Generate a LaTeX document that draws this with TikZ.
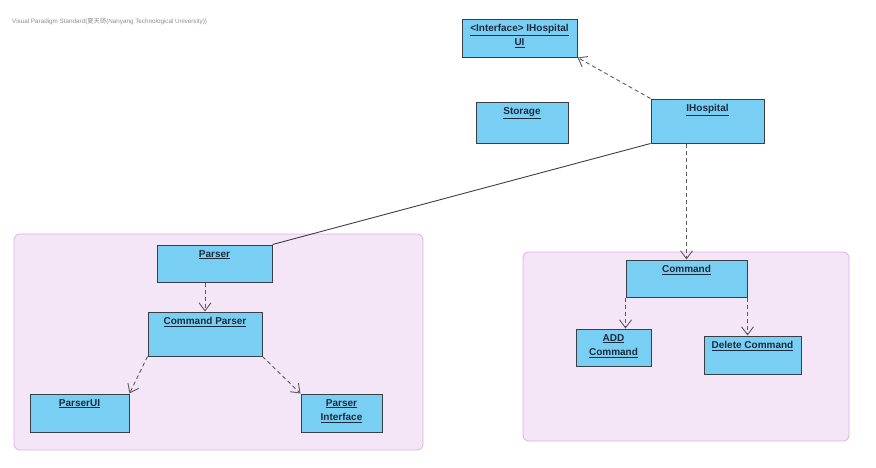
\documentclass[tikz,border=0pt]{standalone}
\usepackage{fontspec}
\setmainfont{Liberation Sans}
\newfontfamily\cjkfont{Noto Sans CJK SC}
\usetikzlibrary{arrows.meta,calc,positioning}
\definecolor{boxfill}{HTML}{79CFF3}
\definecolor{boxline}{HTML}{3A3F44}
\definecolor{boxtext}{HTML}{1C2B3C}
\definecolor{pkgfill}{HTML}{F4E6F6}
\definecolor{pkgline}{HTML}{DDB0E6}
\newcommand{\uln}[1]{\underline{#1}}
\tikzset{
  cls/.style={rectangle,draw=boxline,fill=boxfill,line width=1pt,inner sep=0pt},
  lbl/.style={anchor=north,inner sep=0pt,yshift=-5.5pt,text=boxtext,align=center,
    font=\fontsize{10}{14.5}\selectfont\bfseries},
  pkg/.style={rectangle,rounded corners=6pt,draw=pkgline,fill=pkgfill,line width=0.8pt,inner sep=0pt},
  dep/.style={draw=boxline!85,line width=0.9pt,dash pattern=on 4pt off 3pt,
    -{Straight Barb[length=8pt,width=12pt,line width=0.9pt]}},
  assoc/.style={draw=boxline,line width=0.9pt},
  every node/.style={font=\small}
}

\begin{document}
\begin{tikzpicture}[x=1pt,y=-1pt]
\useasboundingbox (0,0) rectangle (876,467);
% packages
\node[pkg,minimum width=409pt,minimum height=216pt] (pkgparser) at (218.5,342) {};
\node[pkg,minimum width=326pt,minimum height=189pt] (pkgcmd) at (686,346.5) {};
% watermark
\node[anchor=west,inner sep=0pt,text=black!45,font=\fontsize{6.3}{7}\selectfont] (vp) at (12,22)
  {Visual Paradigm Standard({\cjkfont 夏天琦}(Nanyang Technological University))};
% classes
\node[cls,minimum width=115pt,minimum height=38pt,
  label={[lbl]north:{\uln{<Interface> IHospital}\\\uln{UI}}}] (ui) at (519.5,38) {};
\node[cls,minimum width=92pt,minimum height=41pt,label={[lbl]north:\uln{Storage}}] (storage) at (522,122.5) {};
\node[cls,minimum width=113pt,minimum height=44pt,label={[lbl]north:\uln{IHospital}}] (ihosp) at (707.5,121) {};
\node[cls,minimum width=115pt,minimum height=37pt,label={[lbl]north:\uln{Parser}}] (parser) at (214.5,263.5) {};
\node[cls,minimum width=114pt,minimum height=44pt,label={[lbl]north:\uln{Command Parser}}] (cmdparser) at (205,334) {};
\node[cls,minimum width=99pt,minimum height=38pt,label={[lbl]north:\uln{ParserUI}}] (parserui) at (79.5,413) {};
\node[cls,minimum width=81pt,minimum height=38pt,
  label={[lbl]north:{\uln{Parser}\\\uln{Interface}}}] (parserif) at (341.5,413) {};
\node[cls,minimum width=121pt,minimum height=37pt,label={[lbl]north:\uln{Command}}] (command) at (686.5,278.5) {};
\node[cls,minimum width=75pt,minimum height=37pt,
  label={[lbl]north:{\uln{ADD}\\\uln{Command}}}] (addcmd) at (613.5,347.5) {};
\node[cls,minimum width=97pt,minimum height=38pt,label={[lbl]north:\uln{Delete Command}}] (delcmd) at (752.5,355) {};
% connectors
\draw[dep] (ihosp.north west) -- (ui.south east);
\draw[assoc] (ihosp.south west) -- (parser.north east);
\draw[dep] (command.north |- ihosp.south) -- (command.north);
\draw[dep] (parser.south -| cmdparser.north) -- (cmdparser.north);
\draw[dep] (cmdparser.south west) -- (parserui.north east);
\draw[dep] (cmdparser.south east) -- (parserif.north west);
\draw[dep] (command.south west) -- (command.south west |- addcmd.north);
\draw[dep] (command.south east) -- (command.south east |- delcmd.north);
\end{tikzpicture}
\end{document}
